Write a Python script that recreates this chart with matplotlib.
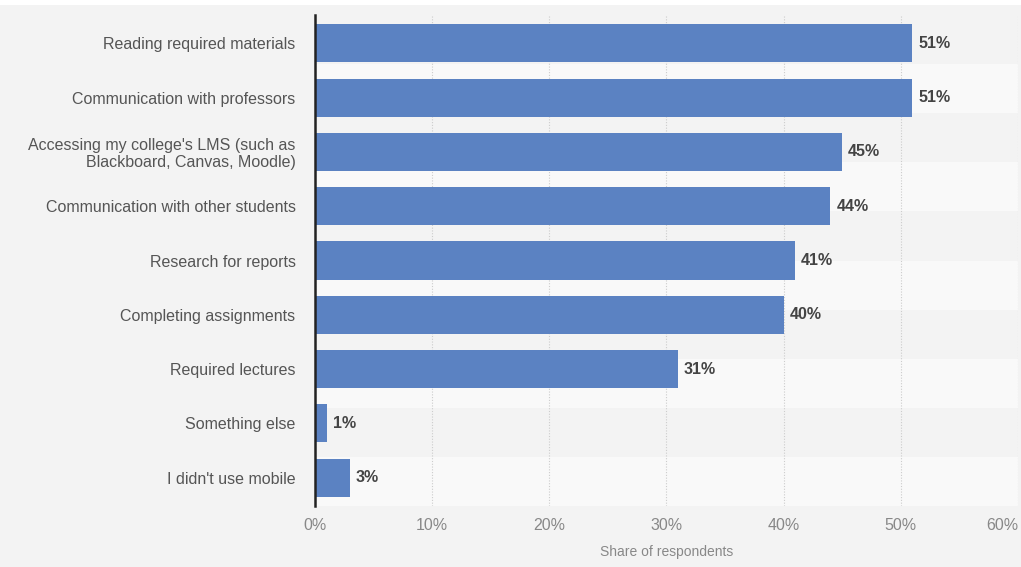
import numpy as np
import matplotlib
matplotlib.use("Agg")
import matplotlib.pyplot as plt
from matplotlib.patches import Rectangle
from matplotlib.ticker import PercentFormatter

# --- Data ---
categories = [
    "Reading required materials",
    "Communication with professors",
    "Accessing my college's LMS (such as\nBlackboard, Canvas, Moodle)",
    "Communication with other students",
    "Research for reports",
    "Completing assignments",
    "Required lectures",
    "Something else",
    "I didn't use mobile",
]
shares = [51, 51, 45, 44, 41, 40, 31, 1, 3]
x_ticks = [0, 10, 20, 30, 40, 50, 60]

# --- Style ---
plt.rcParams['font.family'] = ['Liberation Sans', 'DejaVu Sans']
bg_color = "#f3f3f3"
bar_color = "#5b82c2"

fig = plt.figure(figsize=(10.21, 5.67), dpi=100, facecolor=bg_color)
ax = fig.add_axes([0.3085, 0.1076, 0.6885, 0.8659])
ax.set_facecolor(bg_color)

# faint horizontal bands in the plot area
for k in range(1, 10, 2):
    ax.add_patch(Rectangle((0, 1 - (k + 1) / 10), 1, 0.1, transform=ax.transAxes,
                           facecolor="#f9f9f9", edgecolor="none", zorder=0))

y = np.arange(len(categories))
ax.barh(y, shares, height=0.7, color=bar_color, zorder=2)

for yi, v in zip(y, shares):
    ax.text(v + 0.5, yi, f"{v}%", va="center", ha="left",
            fontsize=11.5, fontweight="bold", color="#444444", zorder=3)

ax.set_ylim(len(categories) - 0.48, -0.52)
ax.set_xlim(0, 60)
ax.set_xticks(x_ticks)
ax.xaxis.set_major_formatter(PercentFormatter(decimals=0))
ax.set_yticks(y)
ax.set_yticklabels(categories, fontsize=11.5, color="#555555", ha="right",
                   multialignment="right", linespacing=1.15)

ax.tick_params(axis="y", length=0, pad=14)
ax.tick_params(axis="x", length=0, pad=9, labelsize=11.5, labelcolor="#888888")

# last tick label sits inside the figure edge
fig.canvas.draw()
ax.get_xticklabels()[-1].set_horizontalalignment("right")

ax.grid(axis="x", linestyle=(0, (1, 1.5)), color="#cccccc", linewidth=0.8, zorder=1)
ax.set_axisbelow(True)

for side in ["top", "right", "bottom"]:
    ax.spines[side].set_visible(False)
ax.spines["left"].set_color("#222222")
ax.spines["left"].set_linewidth(1.8)
ax.spines["left"].set_zorder(4)

ax.set_xlabel("Share of respondents", fontsize=10, color="#888888", labelpad=8)

# white strip along the top edge
fig.patches.append(Rectangle((0, 0.991), 1, 0.009, transform=fig.transFigure,
                             facecolor="white", edgecolor="none", zorder=-1))

fig.savefig("out.png", dpi=100, facecolor=bg_color)
